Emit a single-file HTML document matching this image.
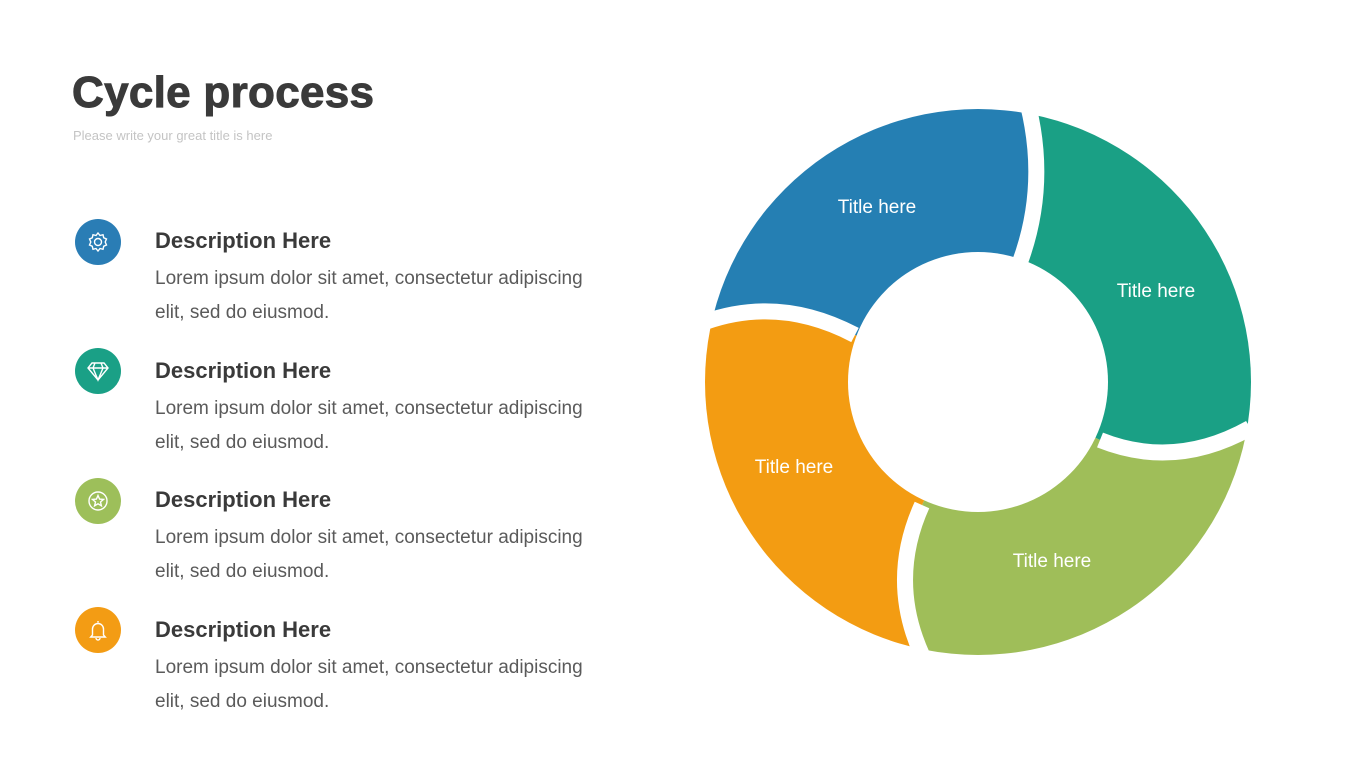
<!DOCTYPE html>
<html><head><meta charset="utf-8"><style>
body{margin:0;width:1365px;height:768px;background:#fff;position:relative;overflow:hidden;font-family:"Liberation Sans",sans-serif}
.t{position:absolute;left:72px;top:68px;font-size:44px;font-weight:bold;color:#3a3a3a;letter-spacing:0.3px;-webkit-text-stroke:1px #3a3a3a}
.s{position:absolute;left:73px;top:128px;font-size:13px;color:#c4c4c4}
.ic{position:absolute;left:75px;width:46px;height:46px;border-radius:50%}
.h{position:absolute;left:155px;font-size:22px;font-weight:bold;color:#3a3a3a}
.b{position:absolute;left:155px;font-size:19px;color:#5a5a5a;line-height:34px;width:460px}
</style></head><body>
<div class="t">Cycle process</div>
<div class="s">Please write your great title is here</div>

<div class="ic" style="top:219px;background:#2a7db5"></div>
<svg style="position:absolute;left:86px;top:230px" width="24" height="24" viewBox="0 0 24 24" fill="none" stroke="#fff" stroke-width="1.4"><circle cx="12" cy="12" r="3.5"/><path d="M12 3l2 2.5 3-.8.7 3 2.8 1.3-1.3 3 1.3 3-2.8 1.3-.7 3-3-.8L12 21l-2-2.5-3 .8-.7-3-2.8-1.3 1.3-3-1.3-3 2.8-1.3.7-3 3 .8z"/></svg>
<div class="h" style="top:228px">Description Here</div>
<div class="b" style="top:262px">Lorem ipsum dolor sit amet, consectetur adipiscing<br>elit, sed do eiusmod.</div>

<div class="ic" style="top:348px;background:#1aa086"></div>
<svg style="position:absolute;left:86px;top:359px" width="24" height="24" viewBox="0 0 24 24" fill="none" stroke="#fff" stroke-width="1.4"><path d="M6 4h12l4 5-10 12L2 9z M2 9h20 M9 4l-2 5 5 12 5-12-2-5"/></svg>
<div class="h" style="top:358px">Description Here</div>
<div class="b" style="top:392px">Lorem ipsum dolor sit amet, consectetur adipiscing<br>elit, sed do eiusmod.</div>

<div class="ic" style="top:478px;background:#9dbf5a"></div>
<svg style="position:absolute;left:86px;top:489px" width="24" height="24" viewBox="0 0 24 24" fill="none" stroke="#fff" stroke-width="1.4"><circle cx="12" cy="12" r="9"/><path d="M12 6.5l1.6 3.6 3.9.3-3 2.6.9 3.8-3.4-2-3.4 2 .9-3.8-3-2.6 3.9-.3z"/></svg>
<div class="h" style="top:487px">Description Here</div>
<div class="b" style="top:521px">Lorem ipsum dolor sit amet, consectetur adipiscing<br>elit, sed do eiusmod.</div>

<div class="ic" style="top:607px;background:#f39c14"></div>
<svg style="position:absolute;left:86px;top:618px" width="24" height="24" viewBox="0 0 24 24" fill="none" stroke="#fff" stroke-width="1.4"><path d="M12 3v1.5 M6.5 17V11a5.5 5.5 0 0 1 11 0v6l1.8 2H4.7z M10 20a2 2 0 0 0 4 0"/></svg>
<div class="h" style="top:617px">Description Here</div>
<div class="b" style="top:651px">Lorem ipsum dolor sit amet, consectetur adipiscing<br>elit, sed do eiusmod.</div>

<svg style="position:absolute;left:0;top:0" width="1365" height="768">
<defs>
<mask id="ring"><rect width="1365" height="768" fill="#000"/><circle cx="978" cy="382" r="273" fill="#fff"/><circle cx="978" cy="382" r="130" fill="#000"/></mask>
</defs>
<g mask="url(#ring)">
<path fill="#257fb3" d="M978,382 L855,335 Q780,295.5 705,322 L560,300 L700,-20 L1040,-20 L1028,105 Q1048,186 1020,262 Z"/>
<path fill="#1aa085" d="M978,382 L1020,262 Q1048,186 1028,105 L1040,-20 L1400,100 L1400,430 L1250,428 Q1175,470 1100,440 Z"/>
<path fill="#9fbe59" d="M978,382 L1100,440 Q1175,470 1250,428 L1400,430 L1300,800 L922,800 L922,655 Q888,580 922,505 Z"/>
<path fill="#f39c12" d="M978,382 L922,505 Q888,580 922,655 L922,800 L560,800 L560,300 L705,322 Q780,295.5 855,335 Z"/>
<g fill="none" stroke="#fff" stroke-width="16">
<path d="M1020,262 Q1048,186 1028,105"/>
<path d="M1100,440 Q1175,470 1250,428"/>
<path d="M922,505 Q888,580 922,655"/>
<path d="M855,335 Q780,295.5 705,322"/>
</g>
</g>
<g fill="#fff" font-family="Liberation Sans, sans-serif" font-size="19" text-anchor="middle">
<text x="877" y="213">Title here</text>
<text x="1156" y="297">Title here</text>
<text x="794" y="473">Title here</text>
<text x="1052" y="567">Title here</text>
</g>
</svg>
</body></html>
